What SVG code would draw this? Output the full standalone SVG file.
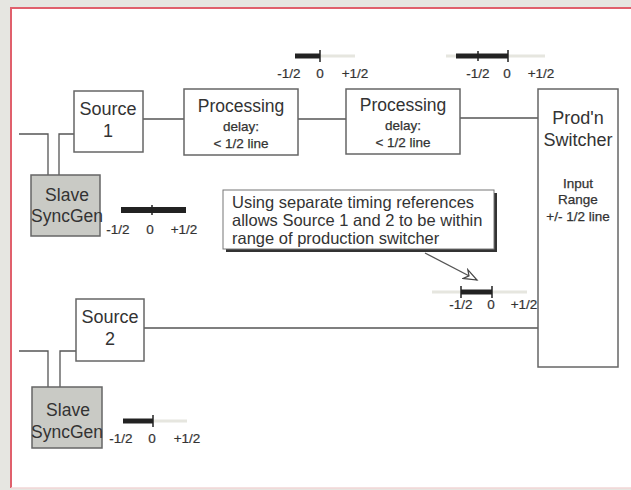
<svg xmlns="http://www.w3.org/2000/svg" width="631" height="490" viewBox="0 0 631 490">
<defs>
<style>
.box{fill:#fff;stroke:#666;stroke-width:1.5}
.slave{fill:#c9cac5;stroke:#666;stroke-width:1.5}
.ln{fill:none;stroke:#555;stroke-width:1.3}
.t{font-family:"Liberation Sans",Arial,sans-serif;fill:#333;text-anchor:middle}
.big{font-size:18px}
.sm{font-size:13.5px;stroke:#333;stroke-width:0.25}
.lab{font-size:13.5px;font-family:"Liberation Sans",Arial,sans-serif;fill:#333;text-anchor:middle;stroke:#333;stroke-width:0.2}
.bar{stroke:#222;stroke-width:5}
.tick{stroke:#222;stroke-width:1.5}
.ghost{stroke:#e6e6df;stroke-width:3}
.call{font-family:"Liberation Sans",Arial,sans-serif;font-size:16.5px;fill:#333}
</style>
<marker id="open" markerWidth="16" markerHeight="12" refX="14" refY="6" orient="auto" markerUnits="userSpaceOnUse">
<path d="M1,1 L14,6 L1,11 L5,6 Z" fill="#fff" stroke="#444" stroke-width="1.2"/>
</marker>
</defs>
<rect x="0" y="0" width="631" height="490" fill="#e6e6e1"/>
<rect x="11" y="8" width="630" height="480" fill="#fff"/>
<path d="M11,488 V8 H631" fill="none" stroke="#e0606c" stroke-width="2"/>
<path d="M11,488 H631" fill="none" stroke="#f2d6d6" stroke-width="1.5"/>

<g id="connectors">
<path class="ln" d="M143,119 H184"/>
<path class="ln" d="M298,119 H346"/>
<path class="ln" d="M460,118 H538"/>
<path class="ln" d="M19,134 H48 V175"/>
<path class="ln" d="M74,134 H59 V175"/>
<path class="ln" d="M144,328 H538"/>
<path class="ln" d="M19,351 H48 V387"/>
<path class="ln" d="M76,351 H60 V387"/>
<path class="ln" d="M425,253 L477,280" stroke="#444" marker-end="url(#open)"/>
</g>

<g id="source1">
<rect class="box" x="74" y="91" width="69" height="61"/>
<text class="t big" x="108" y="115">Source</text>
<text class="t big" x="108" y="137">1</text>
</g>
<g id="processing1">
<rect class="box" x="184" y="89" width="114" height="66"/>
<text class="t" style="font-size:17.5px" x="241" y="112">Processing</text>
<text class="t sm" x="241" y="131">delay:</text>
<text class="t sm" x="241" y="148">&lt; 1/2 line</text>
</g>
<g id="processing2">
<rect class="box" x="346" y="89" width="114" height="65"/>
<text class="t" style="font-size:17.5px" x="403" y="111">Processing</text>
<text class="t sm" x="403" y="130">delay:</text>
<text class="t sm" x="403" y="147">&lt; 1/2 line</text>
</g>
<g id="prodswitcher">
<rect class="box" x="538" y="89" width="80" height="278"/>
<text class="t big" x="578" y="124">Prod'n</text>
<text class="t big" x="578" y="146">Switcher</text>
<text class="t sm" x="578" y="188">Input</text>
<text class="t sm" x="578" y="204">Range</text>
<text class="t sm" x="578" y="221">+/- 1/2 line</text>
</g>
<g id="slave1">
<rect class="slave" x="31" y="175" width="69" height="61"/>
<text class="t" style="font-size:17.5px" x="67" y="201">Slave</text>
<text class="t" style="font-size:17.5px" x="67" y="222">SyncGen</text>
</g>
<g id="source2">
<rect class="box" x="76" y="299" width="68" height="62"/>
<text class="t big" x="110" y="323">Source</text>
<text class="t big" x="110" y="345">2</text>
</g>
<g id="slave2">
<rect class="slave" x="32" y="387" width="70" height="61"/>
<text class="t" style="font-size:17.5px" x="68" y="416">Slave</text>
<text class="t" style="font-size:17.5px" x="67" y="438">SyncGen</text>
</g>

<g id="callout">
<rect x="226" y="193" width="271" height="59" fill="#333"/>
<rect x="223" y="190" width="271" height="59" fill="#fff" stroke="#777" stroke-width="1"/>
<text class="call" x="232" y="208">Using separate timing references</text>
<text class="call" x="232" y="226">allows Source 1 and 2 to be within</text>
<text class="call" x="232" y="244">range of production switcher</text>
</g>

<g id="timing-top1">
<line class="ghost" x1="320" y1="56" x2="355" y2="56"/>
<line class="bar" x1="295" y1="56" x2="320" y2="56"/>
<line class="tick" x1="320" y1="50" x2="320" y2="62"/>
<text class="lab" x="289" y="78">-1/2</text>
<text class="lab" x="320" y="78">0</text>
<text class="lab" x="355" y="78">+1/2</text>
</g>
<g id="timing-top2">
<line class="ghost" x1="446" y1="56" x2="545" y2="56"/>
<line class="bar" x1="456" y1="56" x2="508" y2="56"/>
<line class="tick" x1="478" y1="51" x2="478" y2="61"/>
<line class="tick" x1="508" y1="50" x2="508" y2="62"/>
<text class="lab" x="478" y="78">-1/2</text>
<text class="lab" x="507" y="78">0</text>
<text class="lab" x="541" y="78">+1/2</text>
</g>
<g id="timing-slave1">
<line class="bar" x1="121" y1="210" x2="186" y2="210" style="stroke-width:6"/>
<line class="tick" x1="152" y1="205" x2="152" y2="215"/>
<text class="lab" x="118" y="234">-1/2</text>
<text class="lab" x="150" y="234">0</text>
<text class="lab" x="184" y="234">+1/2</text>
</g>
<g id="timing-mid">
<line class="ghost" x1="432" y1="292" x2="527" y2="292"/>
<line class="bar" x1="461" y1="292" x2="492" y2="292"/>
<line class="tick" x1="461" y1="286" x2="461" y2="298"/>
<line class="tick" x1="492" y1="286" x2="492" y2="298"/>
<text class="lab" x="461" y="309">-1/2</text>
<text class="lab" x="491" y="309">0</text>
<text class="lab" x="524" y="309">+1/2</text>
</g>
<g id="timing-slave2">
<line class="ghost" x1="153" y1="421" x2="187" y2="421"/>
<line class="bar" x1="123" y1="421" x2="153" y2="421"/>
<line class="tick" x1="153" y1="415" x2="153" y2="427"/>
<text class="lab" x="121" y="443">-1/2</text>
<text class="lab" x="152" y="443">0</text>
<text class="lab" x="187" y="443">+1/2</text>
</g>
</svg>
